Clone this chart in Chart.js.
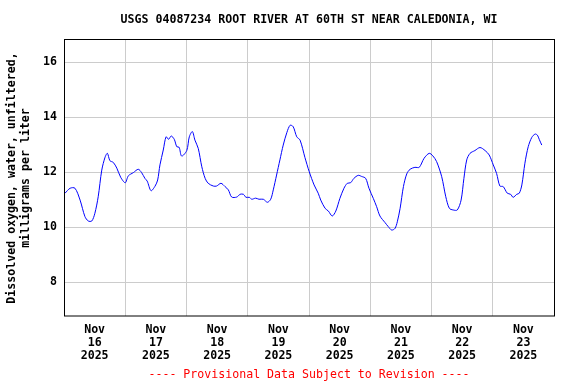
<!DOCTYPE html>
<html>
<head>
<meta charset="utf-8">
<script src="https://cdn.jsdelivr.net/npm/chart.js@4"></script>
<style>
  html, body { margin: 0; padding: 0; background: #fff; }
  #wrap { width: 576px; height: 384px; }
</style>
</head>
<body>
<div id="wrap"><canvas id="doChart" width="576" height="384"></canvas></div>
<script>
// hours since Nov 16 2025 00:00
const hours = [
  0.4, 2.4, 4.3, 6.3, 8.2, 9.5, 10.9, 12.1, 13.4, 14.8, 16.1, 17.0, 18.0, 19.3, 20.7, 22.2,
  24.0, 25.2, 27.2, 29.1, 30.4, 31.7, 32.6, 34.1, 35.7, 36.7, 37.6, 38.9, 40.0, 41.0, 42.0, 43.2,
  44.2, 45.1, 46.1, 48.1, 49.1, 50.3, 51.3, 52.6, 54.0, 55.3, 56.5, 58.5, 59.8, 61.5, 63.1, 64.4,
  65.7, 67.7, 69.0, 70.3, 71.3, 72.6, 73.6, 75.1, 76.4, 78.1, 79.7, 81.0, 82.0, 83.3, 84.6, 85.9,
  87.3, 88.6, 89.8, 91.2, 92.5, 94.4, 96.1, 98.0, 99.6, 100.6, 102.3, 103.6, 105.1, 106.5, 108.1,
  109.7, 111.0, 112.3, 113.6, 115.3, 116.6, 118.2, 119.5, 121.2, 122.5, 123.8, 125.8, 127.1, 128.4,
  129.7, 130.6, 131.7, 133.0, 134.3, 135.6, 137.5, 139.2, 141.1, 143.1, 144.5, 146.0, 148.0, 149.6,
  151.0, 152.5, 154.1, 155.6, 156.7, 157.8, 159.1, 161.0, 163.0, 165.0, 166.6, 168.2, 169.5, 170.8,
  172.1, 173.7, 175.0, 176.0, 177.4, 178.4, 179.4, 180.6, 181.9, 183.3, 184.6, 185.5, 186.2, 187.2
];
// dissolved oxygen, mg/L
const oxygen = [
  11.24, 11.42, 11.42, 10.99, 10.39, 10.23, 10.23, 10.51, 11.11, 12.08, 12.55, 12.69, 12.42, 12.36, 12.15, 11.82,
  11.62, 11.87, 11.99, 12.11, 11.99, 11.78, 11.68, 11.33, 11.50, 11.72, 12.27, 12.81, 13.29, 13.20, 13.32, 13.20,
  12.93, 12.91, 12.59, 12.79, 13.29, 13.48, 13.17, 12.87, 12.20, 11.78, 11.60, 11.50, 11.50, 11.60, 11.48, 11.36,
  11.10, 11.10, 11.20, 11.20, 11.09, 11.09, 11.02, 11.06, 11.02, 11.02, 10.91, 11.02, 11.36, 11.90, 12.45, 12.99,
  13.44, 13.71, 13.66, 13.29, 13.17, 12.54, 12.02, 11.54, 11.24, 10.99, 10.69, 10.59, 10.41, 10.59, 11.05,
  11.42, 11.60, 11.62, 11.78, 11.89, 11.85, 11.78, 11.42, 11.05, 10.75, 10.41, 10.17, 10.02, 9.90,
  9.96, 10.20, 10.69, 11.48, 11.94, 12.11, 12.18, 12.18, 12.51, 12.69, 12.60, 12.39, 11.84, 11.11,
  10.69, 10.63, 10.63, 10.99, 11.78, 12.45, 12.69, 12.79, 12.90, 12.79, 12.63, 12.27, 11.96, 11.50,
  11.48, 11.24, 11.20, 11.09, 11.20, 11.24, 11.54, 12.33, 12.93, 13.27, 13.39, 13.35, 13.20, 12.99
];
const dayLabels = ['16', '17', '18', '19', '20', '21', '22', '23'];
const yTitle = ['Dissolved oxygen, water, unfiltered,', 'milligrams per liter'];
const chartTitle = 'USGS 04087234 ROOT RIVER AT 60TH ST NEAR CALEDONIA, WI';
const footNote = '---- Provisional Data Subject to Revision ----';

const FONT = 'DejaVu Sans Mono';

const framePlugin = {
  id: 'frame',
  afterDraw(chart) {
    const { ctx, chartArea: a } = chart;
    ctx.save();
    ctx.strokeStyle = '#000';
    ctx.lineWidth = 1;
    ctx.strokeRect(Math.round(a.left) + 0.5, Math.round(a.top) - 0.5,
      Math.round(a.right - a.left), Math.round(a.bottom - a.top) + 0.5);
    const cx = (a.left + a.right) / 2;
    ctx.textAlign = 'center';
    ctx.textBaseline = 'middle';
    ctx.fillStyle = '#000';
    ctx.font = 'bold 11.6px "' + FONT + '"';
    ctx.fillText(chartTitle, cx, 20);
    ctx.fillStyle = '#ff0000';
    ctx.font = '11.6px "' + FONT + '"';
    ctx.fillText(footNote, cx, 375);
    ctx.restore();
  }
};

new Chart(document.getElementById('doChart'), {
  type: 'line',
  data: {
    datasets: [{
      data: hours.map((h, i) => ({ x: h, y: oxygen[i] })),
      borderColor: '#0000ff',
      borderWidth: 1,
      pointRadius: 0,
      tension: 0.3,
      fill: false
    }]
  },
  options: {
    responsive: false,
    animation: false,
    layout: { padding: { top: 40, right: 22, left: 0, bottom: 0 } },
    plugins: { legend: { display: false }, tooltip: { enabled: false } },
    scales: {
      x: {
        type: 'linear',
        min: 0,
        max: 192,
        afterFit(scale) { scale.height = 68; },
        border: { display: false },
        grid: {
          drawTicks: false,
          color: ctx => (ctx.tick && ctx.tick.value % 24 === 0) ? '#cccccc' : 'rgba(0,0,0,0)'
        },
        ticks: {
          stepSize: 12,
          autoSkip: false,
          maxRotation: 0,
          padding: 7.5,
          color: '#000',
          font: { family: FONT, size: 11.6, weight: 'bold', lineHeight: '13px' },
          callback: v => (v % 24 === 12) ? ['Nov', dayLabels[(v - 12) / 24], '2025'] : ''
        }
      },
      y: {
        min: 6.775,
        max: 16.81,
        afterFit(scale) { scale.width = 64; },
        border: { display: false },
        grid: { drawTicks: false, color: '#cccccc' },
        ticks: {
          stepSize: 2,
          includeBounds: false,
          padding: 7,
          color: '#000',
          font: { family: FONT, size: 11.6, weight: 'bold' }
        },
        title: {
          display: true,
          text: yTitle,
          color: '#000',
          padding: { top: 4.5, bottom: 0 },
          font: { family: FONT, size: 11.6, weight: 'bold', lineHeight: '14.5px' }
        }
      }
    }
  },
  plugins: [framePlugin]
});
</script>
</body>
</html>
